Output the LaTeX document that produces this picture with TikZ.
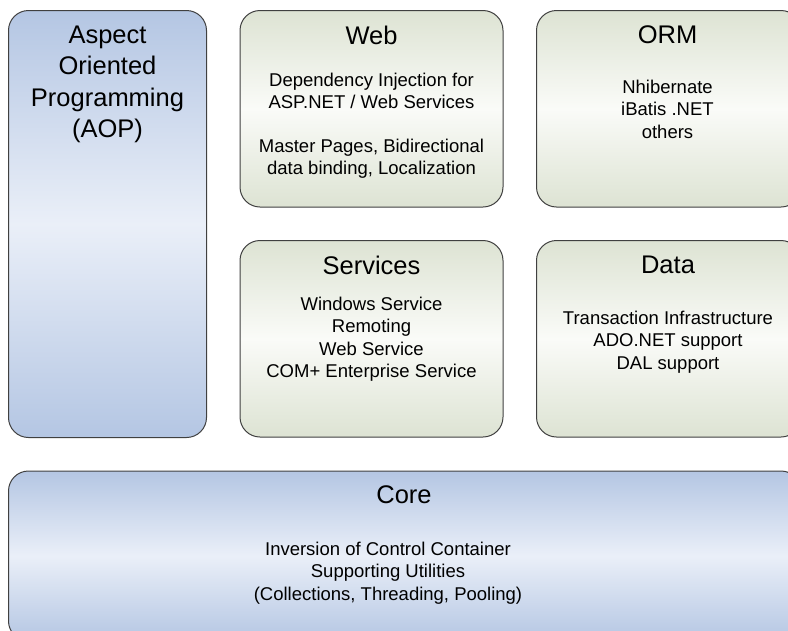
\documentclass[tikz,border=0pt]{standalone}
\usepackage{fontspec}
\setmainfont{Liberation Sans}
\definecolor{boxblue}{HTML}{B4C6E3}
\definecolor{boxbluemid}{HTML}{EAEFF8}
\definecolor{boxgreen}{HTML}{DDE3D3}
\definecolor{boxgreenmid}{HTML}{FAFBF8}
\definecolor{boxline}{HTML}{404040}
\tikzset{
box/.style={draw=boxline,line width=1pt,rounded corners=20pt,inner sep=0pt},
bluebox/.style={box,top color=boxblue,bottom color=boxblue,middle color=boxbluemid},
greenbox/.style={box,top color=boxgreen,bottom color=boxgreen,middle color=boxgreenmid},
ttl/.style={anchor=north,inner sep=0pt,align=center,font=\fontsize{25.5}{31.2}\selectfont},
txt/.style={anchor=north,inner sep=0pt,align=center,font=\fontsize{18.5}{22.2}\selectfont}
}
\begin{document}
\begin{tikzpicture}[x=1pt,y=-1pt]
\useasboundingbox (0,0) rectangle (788,630);
\clip (0,0) rectangle (788,630);
\node[bluebox,minimum width=198,minimum height=427](aop)at(107.5,224){};
\node[greenbox,minimum width=263,minimum height=196.5](web)at(371.5,108.75){};
\node[greenbox,minimum width=264.5,minimum height=196.5](orm)at(668.75,108.75){};
\node[greenbox,minimum width=263,minimum height=196.5](services)at(371.5,338.75){};
\node[greenbox,minimum width=264.5,minimum height=196.5](data)at(668.75,338.75){};
\node[bluebox,minimum width=792.5,minimum height=170](core)at(404.75,556){};
\node[ttl](aoptitle)at(107.5,26){Aspect\\Oriented\\Programming\\(AOP)};
\node[ttl](webtitle)at(371.5,25.5){Web};
\node[txt](webtext)at(371.5,72.5){Dependency Injection for\\ASP.NET / Web Services\\[22.2pt]
Master Pages, Bidirectional\\data binding, Localization};
\node[ttl](ormtitle)at(667.5,25.5){ORM};
\node[txt](ormtext)at(667.5,80){Nhibernate\\iBatis .NET\\others};
\node[ttl](servicestitle)at(371.5,255.5){Services};
\node[txt](servicestext)at(371.5,297){Windows Service\\Remoting\\Web Service\\COM+ Enterprise Service};
\node[ttl](datatitle)at(668,255.5){Data};
\node[txt](datatext)at(668,311){Transaction Infrastructure\\ADO.NET support\\DAL support};
\node[ttl](coretitle)at(404,485){Core};
\node[txt](coretext)at(388,542){Inversion of Control Container\\Supporting Utilities\\(Collections, Threading, Pooling)};
\end{tikzpicture}
\end{document}
